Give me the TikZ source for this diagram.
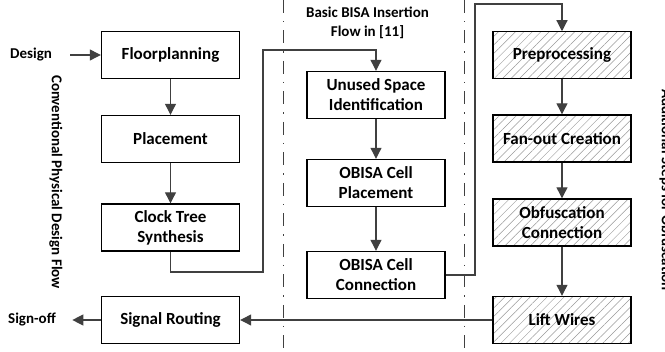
\documentclass[tikz,border=0pt]{standalone}
\usepackage{fontspec}
\setmainfont{Carlito}
\usetikzlibrary{arrows.meta,patterns.meta}

\tikzset{
  stepbox/.style={draw=black, line width=1.4pt, minimum width=138pt, minimum height=47pt,
    align=center, inner sep=2pt, font=\fontsize{17}{20}\selectfont\bfseries},
  hatchbox/.style={stepbox, pattern={Lines[angle=45,distance=6pt,line width=0.5pt]}, pattern color=gray!80},
  flowarrow/.style={draw=darkgray, line width=1.2pt, -{Triangle[length=11pt,width=11pt]}},
  sepline/.style={draw=darkgray, line width=1pt, dash pattern=on 13pt off 8pt on 1.5pt off 8pt},
  tag/.style={font=\fontsize{15}{19}\selectfont\bfseries, align=center}
}

\begin{document}
\begin{tikzpicture}[x=1pt, y=-1pt]
\useasboundingbox (0,0) rectangle (665,352);

\draw[sepline] (283,0) -- (283,352);
\draw[sepline] (464,0) -- (464,352);

% conventional flow
\node[stepbox] (floor) at (170.5,55) {Floorplanning};
\node[stepbox] (place) at (170.5,139) {Placement};
\node[stepbox] (cts) at (170.5,227.5) {Clock Tree\\Synthesis};
\node[stepbox] (route) at (170.5,320) {Signal Routing};
\node[tag] (design) at (31,55) {Design};
\node[tag] (signoff) at (32,320) {Sign-off};
\node[tag, rotate=-90] (convtxt) at (56,182) {Conventional Physical Design Flow};

% basic BISA insertion
\node[tag] (bisatxt) at (367.5,23) {Basic BISA Insertion\\Flow in [11]};
\node[stepbox] (unused) at (376,95) {Unused Space\\Identification};
\node[stepbox] (obplace) at (376,183) {OBISA Cell\\Placement};
\node[stepbox] (obconn) at (376,275) {OBISA Cell\\Connection};

% obfuscation steps
\node[hatchbox] (prep) at (562,55) {Preprocessing};
\node[hatchbox] (fanout) at (562,138.5) {Fan-out Creation};
\node[hatchbox] (obfconn) at (562,222.5) {Obfuscation\\Connection};
\node[hatchbox] (lift) at (562,320) {Lift Wires};
\node[tag, rotate=-90] (addtxt) at (666,190) {Additional Steps for Obfuscation};

\coordinate (j1) at (263,272);
\coordinate (j2) at (263,50);
\coordinate (k1) at (475,4);

\draw[flowarrow, shorten <=15pt] (design) -- (floor);
\draw[flowarrow] (floor) -- (place);
\draw[flowarrow] (place) -- (cts);
\draw[flowarrow] (cts.south) |- (j1) -- (j2) -| (unused.north);
\draw[flowarrow] (unused) -- (obplace);
\draw[flowarrow] (obplace) -- (obconn);
\draw[flowarrow] (obconn.east) -| (k1) -| (prep.north);
\draw[flowarrow] (prep) -- (fanout);
\draw[flowarrow] (fanout) -- (obfconn);
\draw[flowarrow] (obfconn) -- (lift);
\draw[flowarrow] (lift) -- (route);
\draw[flowarrow, shorten >=13pt] (route) -- (signoff);
\end{tikzpicture}
\end{document}
